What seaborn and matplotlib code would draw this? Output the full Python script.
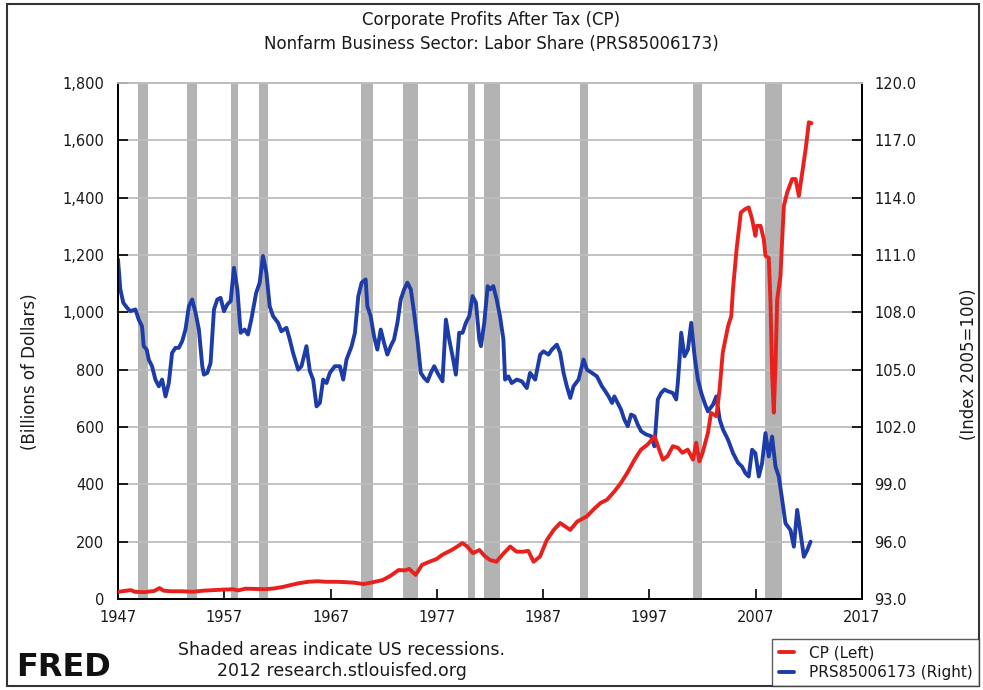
import matplotlib
matplotlib.use("Agg")
import matplotlib.pyplot as plt
import seaborn as sns
import pandas as pd
from matplotlib.patches import Rectangle

# ---------------- data ----------------
cp_years = [1947.0, 1948.2, 1948.6, 1949.5, 1950.4, 1950.9, 1951.3, 1952.0, 1953.0, 1954.0,
            1955.0, 1956.0, 1957.0, 1957.8, 1958.3, 1959.0, 1960.0, 1960.8, 1961.7, 1962.5,
            1963.3, 1964.0, 1964.9, 1965.8, 1966.6, 1967.5, 1968.3, 1969.2, 1970.1, 1970.8,
            1971.4, 1971.9, 1972.6, 1973.4, 1974.0, 1974.4, 1975.0, 1975.6, 1976.3, 1977.0,
            1977.5, 1978.4, 1979.0, 1979.4, 1979.8, 1980.4, 1981.0, 1981.5, 1982.0, 1982.6,
            1983.3, 1983.9, 1984.5, 1985.1, 1985.6, 1986.1, 1986.7, 1987.35, 1988.0, 1988.6,
            1989.55, 1990.2, 1991.1, 1991.7, 1992.4, 1993.0, 1993.7, 1994.3, 1994.9, 1995.6,
            1996.2, 1996.8, 1997.5, 1997.8, 1998.26, 1998.7, 1999.2, 1999.7, 2000.1, 2000.6,
            2001.1, 2001.4, 2001.7, 2002.0, 2002.5, 2002.8, 2003.3, 2003.6, 2003.9, 2004.4,
            2004.7, 2004.86, 2005.2, 2005.6, 2006.0, 2006.34, 2006.66, 2006.97, 2007.1, 2007.45,
            2007.76, 2007.92, 2008.23, 2008.39, 2008.54, 2008.7, 2008.86, 2009.02, 2009.33, 2009.49,
            2009.65, 2009.96, 2010.43, 2010.75, 2011.06, 2011.38, 2011.7, 2012.0, 2012.25]
cp_values = [25, 31, 25, 24, 28, 38, 29, 27, 27, 25,
             29, 31, 33, 34, 30, 36, 35, 34, 37, 42,
             49, 55, 60, 62, 60, 60, 59, 57, 52, 57,
             62, 66, 80, 101, 100, 105, 84, 119, 130, 140,
             154, 171, 185, 195, 185, 160, 171, 150, 136, 130,
             160, 183, 165, 165, 168, 130, 148, 206, 241, 265,
             241, 270, 288, 311, 335, 346, 375, 404, 439, 486,
             521, 538, 567, 533, 486, 498, 533, 527, 510, 521,
             486, 545, 480, 510, 579, 649, 638, 731, 860, 952,
             987, 1080, 1220, 1348, 1360, 1366, 1325, 1267, 1302, 1302,
             1255, 1197, 1190, 1034, 790, 650, 812, 1045, 1127, 1255,
             1372, 1418, 1465, 1465, 1406, 1488, 1570, 1663, 1660]

ls_years = [1947.0, 1947.22, 1947.5, 1947.85, 1948.16, 1948.64, 1948.95, 1949.26, 1949.42, 1949.7,
            1949.89, 1950.2, 1950.52, 1950.84, 1951.15, 1951.47, 1951.78, 1952.09, 1952.4, 1952.72,
            1953.04, 1953.35, 1953.67, 1953.98, 1954.3, 1954.61, 1954.93, 1955.08, 1955.4, 1955.71,
            1956.03, 1956.34, 1956.65, 1956.97, 1957.28, 1957.6, 1957.91, 1958.23, 1958.54, 1958.91,
            1959.23, 1959.54, 1960.0, 1960.33, 1960.64, 1960.96, 1961.27, 1961.59, 1962.06, 1962.37,
            1962.85, 1963.16, 1963.47, 1963.95, 1964.26, 1964.73, 1965.05, 1965.36, 1965.68, 1965.99,
            1966.3, 1966.62, 1966.93, 1967.4, 1967.88, 1968.19, 1968.5, 1968.98, 1969.29, 1969.61,
            1969.92, 1970.3, 1970.46, 1970.77, 1971.09, 1971.4, 1971.72, 1972.03, 1972.34, 1972.66,
            1972.97, 1973.29, 1973.6, 1973.92, 1974.23, 1974.55, 1974.86, 1975.17, 1975.49, 1975.8,
            1976.12, 1976.43, 1976.75, 1977.06, 1977.53, 1977.85, 1978.16, 1978.48, 1978.79, 1979.1,
            1979.42, 1979.73, 1980.05, 1980.36, 1980.68, 1980.99, 1981.15, 1981.46, 1981.78, 1982.0,
            1982.31, 1982.63, 1982.94, 1983.26, 1983.42, 1983.73, 1984.04, 1984.52, 1984.99, 1985.46,
            1985.77, 1986.25, 1986.72, 1987.03, 1987.5, 1987.82, 1988.29, 1988.6, 1988.92, 1989.23,
            1989.55, 1989.86, 1990.33, 1990.8, 1991.12, 1991.59, 1992.06, 1992.53, 1992.85, 1993.16,
            1993.48, 1993.7, 1994.01, 1994.33, 1994.64, 1994.96, 1995.27, 1995.59, 1995.9, 1996.22,
            1996.69, 1997.16, 1997.47, 1997.79, 1998.1, 1998.42, 1998.73, 1999.2, 1999.52, 1999.67,
            1999.83, 1999.99, 2000.3, 2000.62, 2000.93, 2001.25, 2001.56, 2001.88, 2002.19, 2002.5,
            2002.98, 2003.29, 2003.61, 2003.92, 2004.39, 2004.86, 2005.34, 2005.71, 2006.03, 2006.34,
            2006.66, 2006.97, 2007.29, 2007.6, 2007.92, 2008.23, 2008.54, 2008.86, 2009.17, 2009.49,
            2009.8, 2010.27, 2010.59, 2010.9, 2011.22, 2011.53, 2011.85, 2012.16]
ls_values = [110.77, 109.2, 108.5, 108.24, 108.06, 108.15, 107.62, 107.27, 106.23, 106.05,
             105.53, 105.18, 104.48, 104.13, 104.48, 103.6, 104.3, 105.88, 106.14, 106.14,
             106.49, 107.1, 108.32, 108.67, 107.97, 107.1, 105.18, 104.74, 104.83, 105.35,
             108.15, 108.67, 108.76, 108.06, 108.41, 108.59, 110.33, 109.2, 106.93, 107.1,
             106.84, 107.62, 109.02, 109.55, 110.95, 110.07, 108.32, 107.8, 107.45, 107.01,
             107.19, 106.58, 105.88, 105.0, 105.18, 106.23, 104.92, 104.48, 103.08, 103.26,
             104.48, 104.3, 104.83, 105.18, 105.18, 104.48, 105.53, 106.23, 106.93, 108.85,
             109.55, 109.72, 108.32, 107.8, 106.75, 106.05, 107.1, 106.4, 105.79, 106.23,
             106.58, 107.45, 108.67, 109.2, 109.55, 109.2, 107.97, 106.58, 104.83, 104.57,
             104.39, 104.83, 105.18, 104.83, 104.39, 107.62, 106.58, 105.7, 104.74, 106.93,
             106.93, 107.45, 107.8, 108.85, 108.5, 106.58, 106.23, 107.45, 109.37, 109.2,
             109.37, 108.67, 107.8, 106.58, 104.48, 104.65, 104.3, 104.48, 104.39, 104.04,
             104.83, 104.48, 105.79, 105.96, 105.79, 106.05, 106.31, 105.88, 104.83, 104.13,
             103.52, 104.13, 104.48, 105.53, 105.0, 104.83, 104.65, 104.13, 103.87, 103.6,
             103.26, 103.6, 103.26, 102.91, 102.39, 102.04, 102.65, 102.56, 102.13, 101.78,
             101.61, 101.52, 100.99, 103.44, 103.78, 103.96, 103.87, 103.78, 103.44, 104.3,
             105.53, 106.93, 105.7, 106.05, 107.45, 105.7, 104.48, 103.78, 103.26, 102.82,
             103.17, 103.6, 102.39, 101.87, 101.34, 100.64, 100.12, 99.93, 99.59, 99.41,
             100.81, 100.63, 99.41, 100.11, 101.68, 100.46, 101.5, 99.93, 99.41, 98.19,
             96.96, 96.61, 95.74, 97.66, 96.44, 95.21, 95.56, 96.0]

recession_starts = [1948.85, 1953.45, 1957.6, 1960.25, 1969.85, 1973.85, 1979.95, 1981.45, 1990.5, 2001.1, 2007.9]
recession_ends = [1949.85, 1954.4, 1958.3, 1961.15, 1970.95, 1975.25, 1980.6, 1982.9, 1991.2, 2001.95, 2009.5]

x_ticks = [1947, 1957, 1967, 1977, 1987, 1997, 2007, 2017]
left_ticks = [0, 200, 400, 600, 800, 1000, 1200, 1400, 1600, 1800]
right_ticks = [93.0, 96.0, 99.0, 102.0, 105.0, 108.0, 111.0, 114.0, 117.0, 120.0]

cp_df = pd.DataFrame({"year": cp_years, "value": cp_values})
ls_df = pd.DataFrame({"year": ls_years, "value": ls_values})

# ---------------- style ----------------
sns.set_theme(style="white")
plt.rcParams["font.family"] = ["DejaVu Sans"]

RED = "#E8211E"
BLUE = "#1E3CA8"
GRID = "#BDBDBD"
BAND = "#B3B3B3"
TXT = "#1a1a1a"

fig = plt.figure(figsize=(9.83, 6.9), dpi=100)
fig.patch.set_facecolor("white")

ax = fig.add_axes([118 / 983, 1 - 599 / 690, (862 - 118) / 983, (599 - 83) / 690])
ax2 = ax.twinx()
# red (left axis) on top, blue + bands + grid underneath
ax.set_zorder(2)
ax2.set_zorder(1)
ax.patch.set_visible(False)
ax2.patch.set_facecolor("white")

for s, e in zip(recession_starts, recession_ends):
    ax2.axvspan(s, e, color=BAND, lw=0, zorder=0)

sns.lineplot(data=ls_df, x="year", y="value", ax=ax2, color=BLUE, lw=2.8,
             estimator=None, sort=False, zorder=3)
sns.lineplot(data=cp_df, x="year", y="value", ax=ax, color=RED, lw=2.8,
             estimator=None, sort=False, zorder=3)

ax.set_xlim(1947, 2017)
ax.set_ylim(0, 1800)
ax2.set_ylim(93, 120)

ax.set_xticks(x_ticks)
ax.set_xticklabels([str(t) for t in x_ticks])
ax.set_yticks(left_ticks)
ax.set_yticklabels([f"{t:,}" for t in left_ticks])
ax2.set_yticks(right_ticks)
ax2.set_yticklabels([f"{t:.1f}" for t in right_ticks])

ax2.yaxis.grid(True, color=GRID, lw=1.3, zorder=1)
ax2.set_axisbelow(True)
ax.grid(False)
ax2.xaxis.grid(False)

for a in (ax, ax2):
    a.set_xlabel("")
    a.set_ylabel("")
    for side in ("left", "right", "bottom"):
        a.spines[side].set_color("black")
        a.spines[side].set_linewidth(1.3)
    a.spines["top"].set_color(GRID)
    a.spines["top"].set_linewidth(1.3)

ax.tick_params(axis="y", direction="in", length=7, width=1.2, color="black",
               labelsize=10.5, labelcolor=TXT, pad=10, left=True, right=False)
ax.tick_params(axis="x", direction="in", length=7, width=1.2, color="black",
               labelsize=10.5, labelcolor=TXT, pad=8, bottom=True)
ax2.tick_params(axis="y", direction="in", length=7, width=1.2, color="black",
                labelsize=10.5, labelcolor=TXT, pad=9, right=True, left=False)

# titles and axis labels
fig.text(0.5, 1 - 20 / 690, "Corporate Profits After Tax (CP)", ha="center", va="center",
         fontsize=12, color=TXT)
fig.text(0.5, 1 - 44 / 690, "Nonfarm Business Sector: Labor Share (PRS85006173)", ha="center",
         va="center", fontsize=12, color=TXT)
fig.text(30 / 983, 1 - 372 / 690, "(Billions of Dollars)", rotation=90, ha="center", va="center",
         fontsize=12, color=TXT)
fig.text(969 / 983, 1 - 364 / 690, "(Index 2005=100)", rotation=90, ha="center", va="center",
         fontsize=12, color=TXT)

# footer
fig.text(342 / 983, 1 - 650 / 690, "Shaded areas indicate US recessions.", ha="center", va="center",
         fontsize=12.5, color=TXT)
fig.text(342 / 983, 1 - 671 / 690, "2012 research.stlouisfed.org", ha="center", va="center",
         fontsize=12.5, color=TXT)
fig.text(16 / 983, 1 - 668 / 690, "FRED", ha="left", va="center", fontsize=23, fontweight="bold",
         color="#111111")

# legend
handles = [ax.lines[-1], ax2.lines[-1]]
leg = fig.legend(handles, ["CP (Left)", "PRS85006173 (Right)"], loc="lower right",
                 bbox_to_anchor=(979 / 983, 4 / 690), frameon=True, fancybox=False,
                 edgecolor="#333333", fontsize=11, handlelength=1.0, handletextpad=1.0,
                 borderpad=0.4, labelspacing=0.3, borderaxespad=0)
leg.get_frame().set_linewidth(1.0)
for t in leg.get_texts():
    t.set_color(TXT)

# outer frame
fig.patches.append(Rectangle((7 / 983, 4 / 690), (979 - 7) / 983, (686 - 4) / 690,
                             transform=fig.transFigure, fill=False, edgecolor="#333333", lw=1.5))

fig.savefig("out.png", dpi=100, facecolor="white")
